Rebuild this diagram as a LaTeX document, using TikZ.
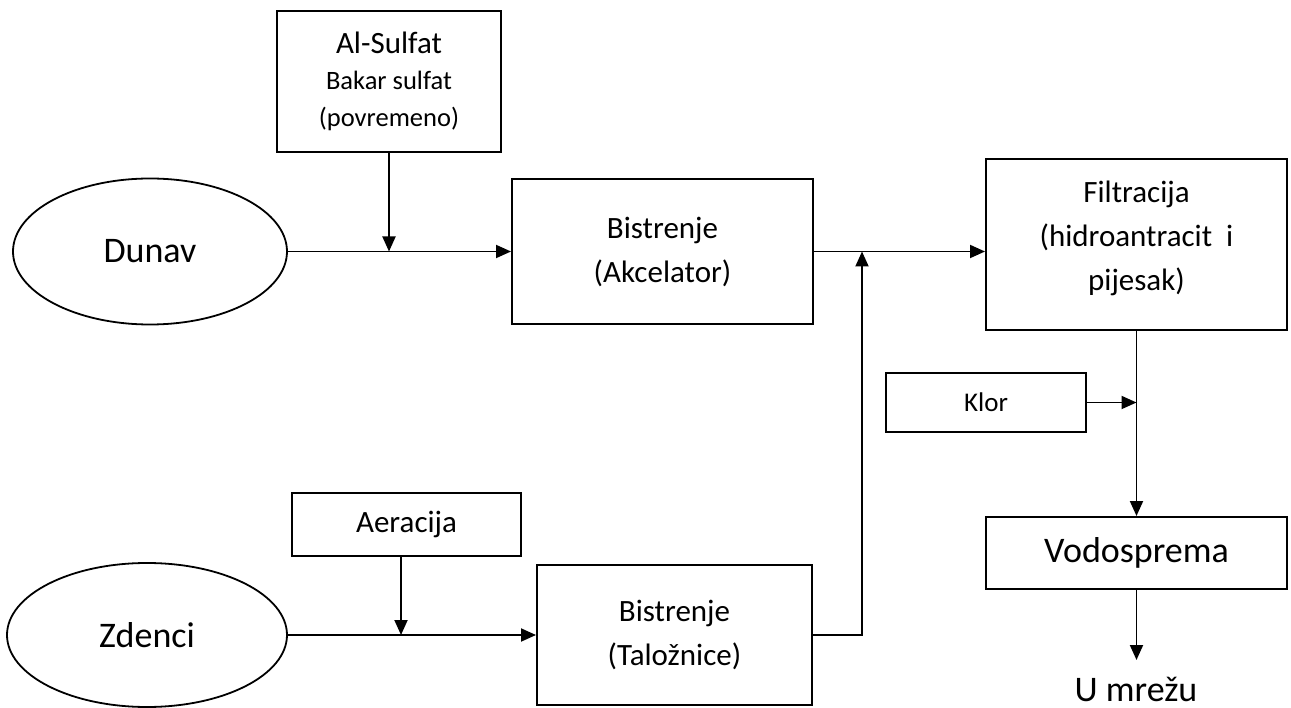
\documentclass[tikz,border=0pt]{standalone}
\usepackage{fontspec}
\setmainfont{Carlito}
\usetikzlibrary{arrows.meta,shapes.geometric,calc}
\begin{document}
\begin{tikzpicture}[x=1pt,y=-1pt,
  box/.style={draw,line width=2pt,rectangle,inner sep=0pt,align=center},
  oval/.style={draw,line width=1.8pt,ellipse,inner sep=0pt},
  arr/.style={line width=1.9pt,-{Triangle[length=15pt,width=13pt]}},
  big/.style={font=\fontsize{36}{43}\selectfont},
  mid/.style={font=\fontsize{31}{44}\selectfont},
  sml/.style={font=\fontsize{27}{37}\selectfont}]
\useasboundingbox[fill=white] (0,0) rectangle (1291,708);

\node[oval,big,minimum width=274pt,minimum height=146pt] (dunav) at (150,251.5) {Dunav};
\node[oval,big,minimum width=280pt,minimum height=144pt] (zdenci) at (147,635) {Zdenci};

\node[box,font=\fontsize{26.5}{37}\selectfont,minimum width=224pt,minimum height=141pt] (al) at (389,81.5)
  {{\fontsize{31}{38}\selectfont Al-Sulfat}\\[-1pt]Bakar sulfat\\(povremeno)};
\node[box,mid,minimum width=301pt,minimum height=145pt] (akc) at (662.5,251.5) {Bistrenje\\(Akcelator)};
\node[box,minimum width=301pt,minimum height=171pt] (filt) at (1136.5,244.5) {};
\node[mid,align=center,inner sep=0pt] (filttxt) at ([yshift=6pt]filt.center) {Filtracija\\(hidroantracit\ \ i\\pijesak)};
\node[box,sml,minimum width=200pt,minimum height=59pt] (klor) at (986,402.5) {Klor};
\node[box,big,minimum width=301pt,minimum height=72pt] (vodo) at (1136.5,553) {Vodosprema};
\node[big,anchor=base,inner sep=0pt] (mreza) at (1136,701) {U mrežu};
\node[box,mid,minimum width=229pt,minimum height=63pt] (aer) at (406.5,524.5) {Aeracija};
\node[box,mid,minimum width=275pt,minimum height=140pt] (tal) at (674.5,635) {Bistrenje\\(Taložnice)};

\coordinate (j) at (862,251.5);
\coordinate (out) at (1136.5,660);

\draw[arr] (dunav) -- (akc);
\draw[arr] (al.south) -- (al.south |- dunav.east);
\draw[arr] (akc.east) -- (akc.east -| filt.west);
\draw[arr] (tal.east) -| (j);
\draw[arr] (filt.south) -- (vodo.north);
\draw[arr] (klor.east) -- (klor.east -| filt.south);
\draw[arr] (vodo.south) -- (out);
\draw[arr] (zdenci) -- (tal);
\draw[arr] ([xshift=-5.5pt]aer.south) -- ([xshift=-5.5pt]aer.south |- zdenci.east);
\end{tikzpicture}
\end{document}
